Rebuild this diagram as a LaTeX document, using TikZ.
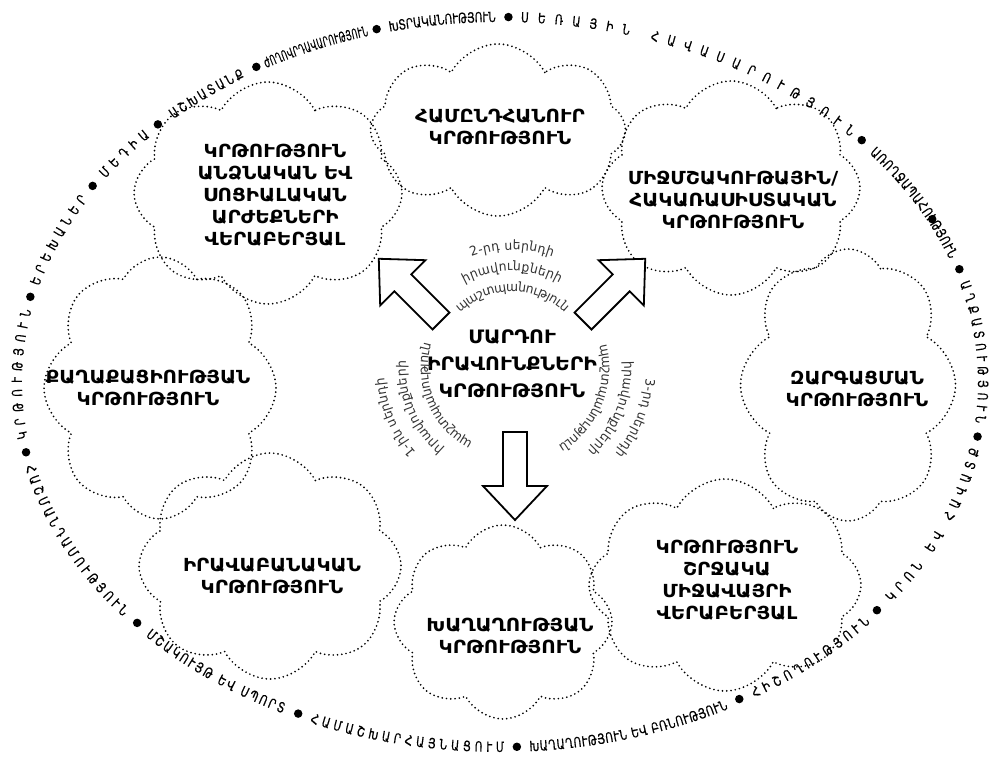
\documentclass[tikz,border=0pt]{standalone}
\usepackage{fontspec}
\setmainfont{DejaVu Sans}
\newfontfamily\ringfont[FakeStretch=0.75,FakeBold=0.5]{DejaVu Sans}
\newfontfamily\ringfontn[FakeStretch=0.55,FakeBold=0.5]{DejaVu Sans}
\newfontfamily\genfont[FakeStretch=0.95]{DejaVu Sans}
\newfontfamily\lblfont[FakeStretch=1.1]{DejaVu Sans Bold}
\usetikzlibrary{shapes.symbols,decorations.text}

\tikzset{
  cloudbox/.style={cloud, cloud puffs=8, cloud puff arc=125, cloud ignores aspect,
    draw, line width=1.9pt, dash pattern=on 0pt off 4.3pt, line cap=round, inner sep=0pt},
  lbl/.style={align=center, inner sep=0pt, font=\lblfont\fontsize{18}{22}\selectfont},
  ringdot/.style={circle, fill=black, inner sep=0pt, minimum size=8.5pt},
  arrowline/.style={draw=black, fill=white, line width=1.8pt, line join=miter},
  blockarrow/.pic={\path[arrowline] (0,-12) -- (54,-12) -- (54,-32) -- (88,0) -- (54,32) -- (54,12) -- (0,12) -- cycle;}
}

% #1 start, #2 end, #3 font, #4 text
\newcommand\ringtop[4]{\path[decorate,decoration={text along path,text align=fit to path,raise=-4.9pt,
  text={|#3\fontsize{14}{14}\selectfont|#4}}]
  plot[domain=#1:#2,samples=60] ({500+483*cos(\x)},{382+365*sin(\x)});}
\newcommand\ringbot[4]{\path[decorate,decoration={text along path,text align=fit to path,raise=-4.9pt,
  text={|#3\fontsize{14}{14}\selectfont|#4}}]
  plot[domain=-#1:-#2,samples=60] ({500+483*cos(-\x)},{382+365*sin(-\x)});}
\newcommand\ringbullet[2]{\node[ringdot] (#1) at ({500+483*cos(#2)},{382+365*sin(#2)}) {};}
\newcommand\genline[4]{\path[decorate,decoration={text along path,text align=fit to path,raise=-3.8pt,
  text={|\genfont\fontsize{13}{13}\selectfont\color{black!80}|#4}}]
  plot[domain=#2:#3,samples=60] ({512+#1*cos(\x)},{368+#1*sin(\x)});}

\begin{document}
\begin{tikzpicture}[x=1pt,y=-1pt]
\useasboundingbox (0,0) rectangle (992,763);
\fill[white] (0,0) rectangle (992,763);

% clouds
\node[cloudbox, minimum width=255pt, minimum height=172pt] (ctop) at (498,130) {};
\node[cloudbox, minimum width=268pt, minimum height=222pt, shape border rotate=10] (ctl) at (268,193) {};
\node[cloudbox, minimum width=258pt, minimum height=214pt, shape border rotate=-8] (ctr) at (731,188) {};
\node[cloudbox, minimum width=232pt, minimum height=262pt, shape border rotate=15] (cl) at (160,388) {};
\node[cloudbox, minimum width=215pt, minimum height=272pt, shape border rotate=-12] (cr) at (848,385) {};
\node[cloudbox, minimum width=262pt, minimum height=226pt, shape border rotate=5] (cbl) at (270,566) {};
\node[cloudbox, minimum width=218pt, minimum height=194pt, shape border rotate=20] (cb) at (503,622) {};
\node[cloudbox, minimum width=272pt, minimum height=212pt, shape border rotate=-5] (cbr) at (725,585) {};

% labels
\node[lbl] (ttop) at (500,127) {ՀԱՄԸՆԴՀԱՆՈՒՐ\\ԿՐԹՈՒԹՅՈՒՆ};
\node[lbl] (ttl) at (275,195) {ԿՐԹՈՒԹՅՈՒՆ\\ԱՆՁՆԱԿԱՆ ԵՎ\\ՍՈՑԻԱԼԱԿԱՆ\\ԱՐԺԵՔՆԵՐԻ\\ՎԵՐԱԲԵՐՅԱԼ};
\node[lbl] (ttr) at (733,200) {ՄԻՋՄՇԱԿՈՒԹԱՅԻՆ/\\ՀԱԿԱՌԱՍԻՍՏԱԿԱՆ\\ԿՐԹՈՒԹՅՈՒՆ};
\node[lbl] (tl) at (148,388) {ՔԱՂԱՔԱՑԻՈՒԹՅԱՆ\\ԿՐԹՈՒԹՅՈՒՆ};
\node[lbl] (tr) at (857,389) {ԶԱՐԳԱՑՄԱՆ\\ԿՐԹՈՒԹՅՈՒՆ};
\node[lbl] (tbl) at (272,576) {ԻՐԱՎԱԲԱՆԱԿԱՆ\\ԿՐԹՈՒԹՅՈՒՆ};
\node[lbl] (tb) at (510,636) {ԽԱՂԱՂՈՒԹՅԱՆ\\ԿՐԹՈՒԹՅՈՒՆ};
\node[lbl] (tbr) at (727,580) {ԿՐԹՈՒԹՅՈՒՆ\\ՇՐՋԱԿԱ\\ՄԻՋԱՎԱՅՐԻ\\ՎԵՐԱԲԵՐՅԱԼ};
\node[lbl, font=\lblfont\fontsize{18.5}{27}\selectfont] (center) at (512,364) {ՄԱՐԴՈՒ\\ԻՐԱՎՈՒՆՔՆԵՐԻ\\ԿՐԹՈՒԹՅՈՒՆ};

% block arrows
\pic[rotate=135] (aul) at (441,321) {blockarrow};
\pic[rotate=45] (aur) at (583,321) {blockarrow};
\pic[rotate=-90] (ad) at (515,432) {blockarrow};

% generation texts
\genline{122}{-110}{-70}{2-րդ սերնդի}
\genline{101}{-119.2}{-60.8}{իրավունքների}
\genline{80}{-133}{-47}{պաշտպանություն}
\genline{138}{4.4}{39.6}{3-րդ սերնդի}
\genline{116}{-3.4}{47.4}{իրավունքների}
\genline{94}{-14.6}{58.6}{պաշտպանություն}
\genline{132}{138.6}{175.4}{1-ին սերնդի}
\genline{110}{130.2}{183.8}{իրավունքների}
\genline{88}{117.9}{196.1}{պաշտպանություն}

% outer ring
\ringtop{171}{191.5}{\ringfont}{ԿՐԹՈՒԹՅՈՒՆ}
\ringtop{195.5}{210.5}{\ringfont}{ԵՐԵԽԱՆԵՐ}
\ringtop{214.5}{223}{\ringfont}{ՄԵԴԻԱ}
\ringtop{227}{237.8}{\ringfont}{ԱՇԽԱՏԱՆՔ}
\ringtop{240.8}{254.1}{\ringfontn}{ԺՈՂՈՎՐԴԱՎԱՐՈՒԹՅՈՒՆ}
\ringtop{256.7}{269.5}{\ringfont}{ԽՏՐԱԿԱՆՈՒԹՅՈՒՆ}
\ringtop{272.5}{317}{\ringfont}{ՍԵՌԱՅԻՆ ՀԱՎԱՍԱՐՈՒԹՅՈՒՆ}
\ringtop{320.5}{340}{\ringfont}{ԱՌՈՂՋԱՊԱՀՈՒԹՅՈՒՆ}
\ringtop{344}{366.5}{\ringfont}{ԱՂՔԱՏՈՒԹՅՈՒՆ}
\ringbot{166.8}{140.7}{\ringfont}{ՀԱՇՄԱՆԴԱՄՈՒԹՅՈՒՆ}
\ringbot{136.7}{116.5}{\ringfont}{ՄՇԱԿՈՒՅԹ ԵՎ ՍՊՈՐՏ}
\ringbot{113}{89.5}{\ringfont}{ՀԱՄԱՇԽԱՐՀԱՅՆԱՑՈՒՄ}
\ringbot{86.5}{62}{\ringfont}{ԽԱՂԱՂՈՒԹՅՈՒՆ ԵՎ ԲՌՆՈՒԹՅՈՒՆ}
\ringbot{58.5}{40.5}{\ringfont}{ՀԻՇՈՂՈՒԹՅՈՒՆ}
\ringbot{36.5}{10.5}{\ringfont}{ԿՐՈՆ ԵՎ ՀԱՎԱՏՔ}

\ringbullet{d1}{168.9}
\ringbullet{d2}{193.5}
\ringbullet{d3}{212.5}
\ringbullet{d4}{224.9}
\ringbullet{d5}{239.7}
\ringbullet{d6}{255.2}
\ringbullet{d7}{271.0}
\ringbullet{d8}{318.5}
\ringbullet{d9}{333.5}
\ringbullet{d10}{342.0}
\ringbullet{d11}{368.6}
\ringbullet{d12}{138.7}
\ringbullet{d13}{114.7}
\ringbullet{d14}{88.0}
\ringbullet{d15}{60.3}
\ringbullet{d16}{38.7}
\end{tikzpicture}
\end{document}
